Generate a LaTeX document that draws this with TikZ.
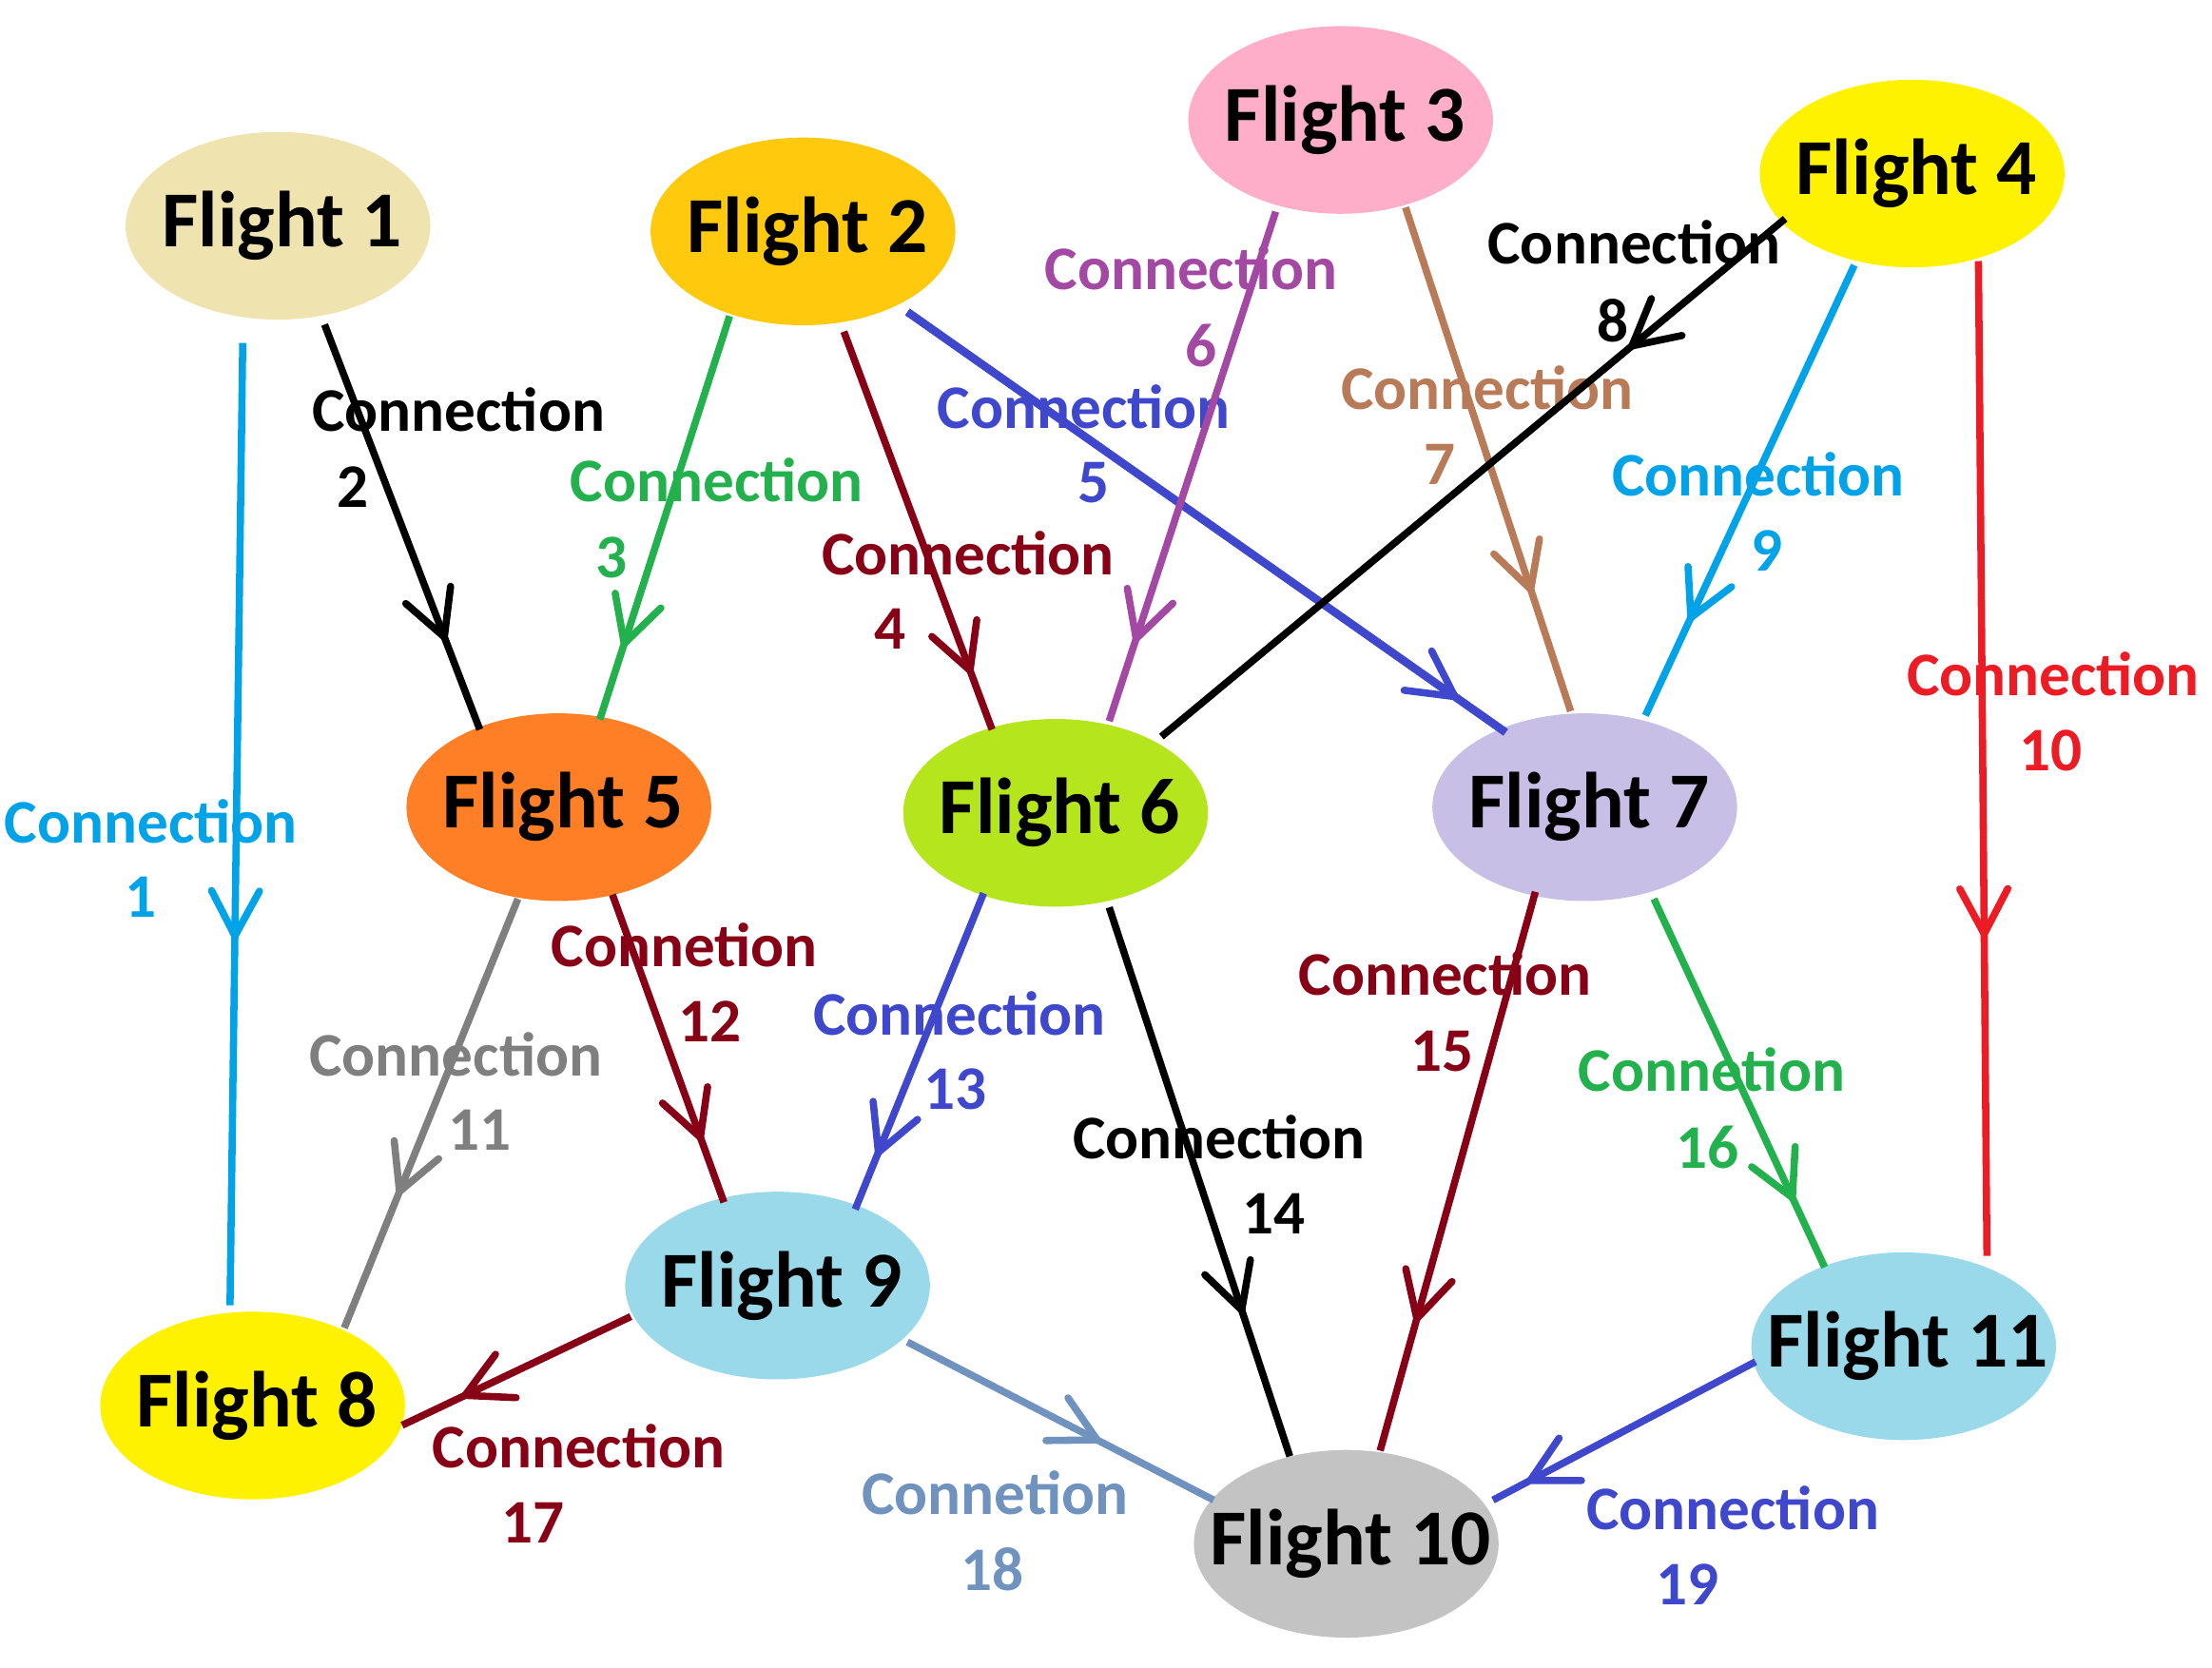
\documentclass[tikz,border=0pt]{standalone}
\usepackage{fontspec}
\setmainfont{Carlito}
\usetikzlibrary{arrows.meta,decorations.markings,calc,shapes.geometric}
\definecolor{cCyan}{HTML}{00A2E8}
\definecolor{cGreen}{HTML}{22B14C}
\definecolor{cDRed}{HTML}{880015}
\definecolor{cBlue}{HTML}{3F48CC}
\definecolor{cPurple}{HTML}{A349A4}
\definecolor{cBrown}{HTML}{B97A57}
\definecolor{cRed}{HTML}{ED1C24}
\definecolor{cGray}{HTML}{7F7F7F}
\definecolor{cSteel}{HTML}{7092BE}
\definecolor{fTan}{HTML}{EFE4B0}
\definecolor{fGold}{HTML}{FFC90E}
\definecolor{fPink}{HTML}{FFAEC9}
\definecolor{fYellow}{HTML}{FFF200}
\definecolor{fOrange}{HTML}{FF7F27}
\definecolor{fLime}{HTML}{B5E61D}
\definecolor{fLav}{HTML}{C8BFE7}
\definecolor{fSky}{HTML}{99D9EA}
\definecolor{fGrey}{HTML}{C3C3C3}
\begin{document}
\begin{tikzpicture}[x=0.02cm,y=-0.02cm,
  fl/.style={ellipse, minimum width=4.32cm, minimum height=2.66cm, inner sep=0pt, draw=none},
  ftext/.style={font=\bfseries\fontsize{32}{32}\selectfont, text=black, inner sep=0pt, xshift=0.06cm},
  ctext/.style={font=\bfseries\fontsize{25}{25}\selectfont, inner sep=0pt},
  conn/.style={line width=2.9pt},
  ma/.style={postaction={decorate}, decoration={markings, mark=at position #1 with {\arrow{Straight Barb[length=0.64cm,width=0.68cm,line width=2.9pt,round]}}}}]
\useasboundingbox (0,0) rectangle (1567.5,1182);
% flights
\node[fl, fill=fTan,    label={[ftext]center:Flight 1}]  (f1)  at (197,160) {};
\node[fl, fill=fGold,   label={[ftext]center:Flight 2}]  (f2)  at (569,164) {};
\node[fl, fill=fPink,   label={[ftext]center:Flight 3}]  (f3)  at (950,85) {};
\node[fl, fill=fYellow, label={[ftext]center:Flight 4}]  (f4)  at (1355,123) {};
\node[fl, fill=fOrange, label={[ftext]center:Flight 5}]  (f5)  at (396,572) {};
\node[fl, fill=fLime,   label={[ftext]center:Flight 6}]  (f6)  at (748,576) {};
\node[fl, fill=fLav,    label={[ftext]center:Flight 7}]  (f7)  at (1123,572) {};
\node[fl, fill=fYellow, label={[ftext]center:Flight 8}]  (f8)  at (179,996) {};
\node[fl, fill=fSky,    label={[ftext]center:Flight 9}]  (f9)  at (551,911) {};
\node[fl, fill=fGrey,   label={[ftext]center:Flight 10}] (f10) at (954,1094) {};
\node[fl, fill=fSky,    label={[ftext]center:Flight 11}] (f11) at (1349,954) {};
% labels
\node[ctext, cCyan]   (c1)  at (107,582)  {Connection}; \node[ctext, cCyan]   (n1)  at (100,636)  {1};
\node[ctext, black]   (c2)  at (325,290)  {Connection}; \node[ctext, black]   (n2)  at (250,345)  {2};
\node[ctext, cGreen]  (c3)  at (508,340)  {Connection}; \node[ctext, cGreen]  (n3)  at (433,395)  {3};
\node[ctext, cDRed]   (c4)  at (686,392)  {Connection}; \node[ctext, cDRed]   (n4)  at (631,446)  {4};
\node[ctext, cBlue]   (c5)  at (768,288)  {Connection}; \node[ctext, cBlue]   (n5)  at (775,342)  {5};
\node[ctext, cPurple] (c6)  at (844,190)  {Connection}; \node[ctext, cPurple] (n6)  at (851,245)  {6};
\node[ctext, cBrown]  (c7)  at (1054,275) {Connection}; \node[ctext, cBrown]  (n7)  at (1020,329) {7};
\node[ctext, black]   (c8)  at (1158,172) {Connection}; \node[ctext, black]   (n8)  at (1143,227) {8};
\node[ctext, cCyan]   (c9)  at (1246,336) {Connection}; \node[ctext, cCyan]   (n9)  at (1252,390) {9};
\node[ctext, cRed]    (c10) at (1455,478) {Connection}; \node[ctext, cRed]    (n10) at (1453,532) {10};
\node[ctext, cGray]   (c11) at (323,747)  {Connection}; \node[ctext, cGray]   (n11) at (340,801)  {11};
\node[ctext, cDRed]   (c12) at (485,670)  {Connetion};  \node[ctext, cDRed]   (n12) at (503,724)  {12};
\node[ctext, cBlue]   (c13) at (680,718)  {Connection}; \node[ctext, cBlue]   (n13) at (677,772)  {13};
\node[ctext, black]   (c14) at (864,806)  {Connection}; \node[ctext, black]   (n14) at (903,860)  {14};
\node[ctext, cDRed]   (c15) at (1024,690) {Connection}; \node[ctext, cDRed]   (n15) at (1022,745) {15};
\node[ctext, cGreen]  (c16) at (1213,758) {Connetion};  \node[ctext, cGreen]  (n16) at (1210,813) {16};
\node[ctext, cDRed]   (c17) at (410,1025) {Connection}; \node[ctext, cDRed]   (n17) at (378,1079) {17};
\node[ctext, cSteel]  (c18) at (705,1058) {Connetion};  \node[ctext, cSteel]  (n18) at (703,1112) {18};
\node[ctext, cBlue]   (c19) at (1228,1069) {Connection}; \node[ctext, cBlue]  (n19) at (1196,1123) {19};
% connections
\draw[conn, cCyan,   ma=0.62] ($(f1.center)+(-25,83)$)  -- ($(f8.center)+(-16,-71)$);
\draw[conn, black,   ma=0.78] ($(f1.center)+(33,70)$)   -- ($(f5.center)+(-56,-55)$);
\draw[conn, cGreen,  ma=0.82] ($(f2.center)+(-52,60)$)  -- ($(f5.center)+(29,-62)$);
\draw[conn, cDRed,   ma=0.86] ($(f2.center)+(29,71)$)   -- ($(f6.center)+(-45,-59)$);
\draw[conn, cBlue, line width=3.3pt, ma=0.92] ($(f2.center)+(74,57)$) -- ($(f7.center)+(-56,-53)$);
\draw[conn, cPurple, ma=0.845] ($(f3.center)+(-46,65)$) -- ($(f6.center)+(38,-65)$);
\draw[conn, cBrown,  ma=0.765] ($(f3.center)+(46,62)$)  -- ($(f7.center)+(-10,-68)$);
\draw[conn, black,   ma=0.25] ($(f4.center)+(-90,32)$)  -- ($(f6.center)+(75,-54)$);
\draw[conn, cCyan,   ma=0.79] ($(f4.center)+(-41,65)$)  -- ($(f7.center)+(43,-65)$);
\draw[conn, cRed,    ma=0.68] ($(f4.center)+(47,62)$)   -- ($(f11.center)+(59,-64)$);
\draw[conn, cGray,   ma=0.69] ($(f5.center)+(-29,65)$)  -- ($(f8.center)+(65,-55)$);
\draw[conn, cDRed,   ma=0.80] ($(f5.center)+(38,62)$)   -- ($(f9.center)+(-38,-59)$);
\draw[conn, cBlue,   ma=0.83] ($(f6.center)+(-51,57)$)  -- ($(f9.center)+(55,-54)$);
\draw[conn, black,   ma=0.74] ($(f6.center)+(38,67)$)   -- ($(f10.center)+(-40,-62)$);
\draw[conn, cDRed,   ma=0.77] ($(f7.center)+(-35,60)$)  -- ($(f10.center)+(24,-66)$);
\draw[conn, cGreen,  ma=0.82] ($(f7.center)+(49,65)$)   -- ($(f11.center)+(-56,-56)$);
\draw[conn, cDRed,   ma=0.74] ($(f9.center)+(-104,22)$) -- ($(f8.center)+(106,14)$);
\draw[conn, cSteel,  ma=0.63] ($(f9.center)+(92,40)$)   -- ($(f10.center)+(-94,-31)$);
\draw[conn, cBlue,   ma=0.87] ($(f11.center)+(-105,11)$) -- ($(f10.center)+(104,-31)$);
\end{tikzpicture}
\end{document}
